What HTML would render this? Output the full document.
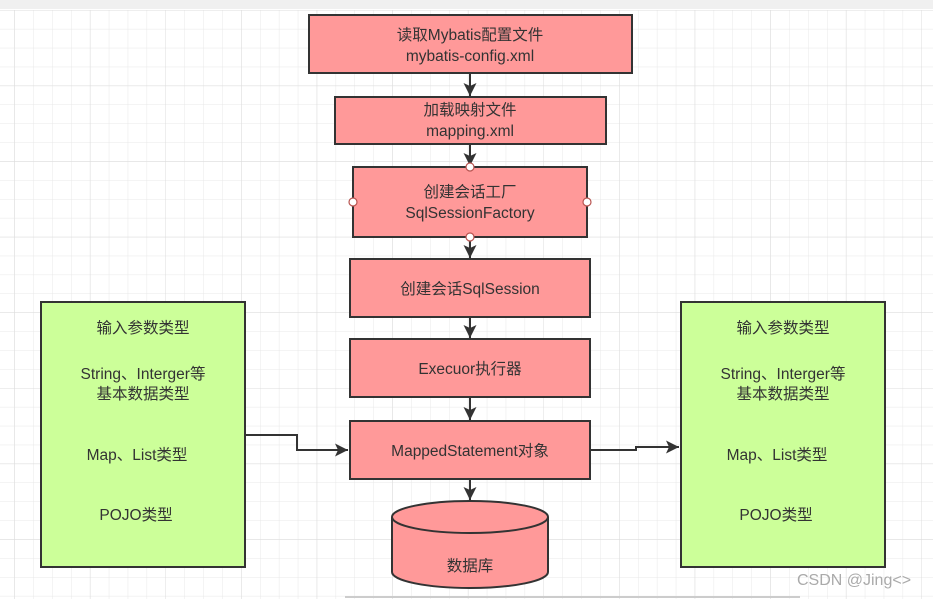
<!DOCTYPE html>
<html><head><meta charset="utf-8"><style>
html,body{margin:0;padding:0;background:#fff;}
body{width:933px;height:599px;overflow:hidden;position:relative;}
svg text{font-family:"Liberation Sans","Noto Sans CJK SC",sans-serif;font-size:15.5px;fill:#333;text-anchor:middle;}
</style></head><body>
<svg width="933" height="599" xmlns="http://www.w3.org/2000/svg">
<defs>
<pattern id="g" x="14.3" y="10" width="18.9" height="18.9" patternUnits="userSpaceOnUse">
<path d="M0 0H18.9M0 0V18.9" stroke="#e8e8e8" stroke-width="1" fill="none"/>
</pattern>
<pattern id="G" x="14.3" y="10" width="75.6" height="75.6" patternUnits="userSpaceOnUse">
<path d="M0 0H75.6M0 0V75.6" stroke="#dcdcdc" stroke-width="1" fill="none"/>
</pattern>
<marker id="a" markerWidth="14" markerHeight="14" refX="13" refY="6.5" orient="auto" markerUnits="userSpaceOnUse">
<path d="M0 0L13 6.5L0 13L3 6.5Z" fill="#333"/>
</marker>
</defs>
<rect width="933" height="599" fill="#fff"/>
<rect x="0" y="10" width="933" height="589" fill="url(#g)"/>
<rect x="0" y="10" width="933" height="589" fill="url(#G)"/>
<rect x="0" y="0" width="933" height="9" fill="#f0f0f0"/>
<line x1="345" y1="597" x2="800" y2="597" stroke="#ccc" stroke-width="2"/>

<g stroke="#333" stroke-width="2" fill="none">
<line x1="470" y1="73" x2="470" y2="96" marker-end="url(#a)"/>
<line x1="470" y1="144" x2="470" y2="166" marker-end="url(#a)"/>
<line x1="470" y1="237" x2="470" y2="258" marker-end="url(#a)"/>
<line x1="470" y1="317" x2="470" y2="338" marker-end="url(#a)"/>
<line x1="470" y1="397" x2="470" y2="420" marker-end="url(#a)"/>
<line x1="470" y1="479" x2="470" y2="500" marker-end="url(#a)"/>
<polyline points="245,435 297,435 297,450 348,450" marker-end="url(#a)"/>
<polyline points="590,450 636,450 636,447 679,447" marker-end="url(#a)"/>
</g>

<g fill="#ff9999" stroke="#333" stroke-width="2">
<rect x="309" y="15" width="323" height="58"/>
<rect x="335" y="97" width="271" height="47"/>
<rect x="353" y="167" width="234" height="70"/>
<rect x="350" y="259" width="240" height="58"/>
<rect x="350" y="339" width="240" height="58"/>
<rect x="350" y="421" width="240" height="58"/>
<path d="M392 517 A78 16 0 0 1 548 517 V572 A78 16 0 0 1 392 572 Z"/>
<path d="M392 517 A78 16 0 0 0 548 517" fill="none"/>
</g>
<g fill="#fff" stroke="#b85450" stroke-width="1.2">
<circle cx="470" cy="167" r="4"/><circle cx="470" cy="237" r="4"/>
<circle cx="353" cy="202" r="4"/><circle cx="587" cy="202" r="4"/>
</g>

<g fill="#ccff99" stroke="#333" stroke-width="2">
<rect x="41" y="302" width="204" height="265"/>
<rect x="681" y="302" width="204" height="265"/>
</g>

<text x="470" y="40">读取Mybatis配置文件</text>
<text x="470" y="61">mybatis-config.xml</text>
<text x="470" y="115">加载映射文件</text>
<text x="470" y="136">mapping.xml</text>
<text x="470" y="197">创建会话工厂</text>
<text x="470" y="218">SqlSessionFactory</text>
<text x="470" y="294">创建会话SqlSession</text>
<text x="470" y="374">Execuor执行器</text>
<text x="470" y="456">MappedStatement对象</text>
<text x="470" y="571">数据库</text>

<g>
<text x="143" y="333">输入参数类型</text>
<text x="143" y="379">String、Interger等</text>
<text x="143" y="399">基本数据类型</text>
<text x="137" y="460">Map、List类型</text>
<text x="136" y="520">POJO类型</text>
<text x="783" y="333">输入参数类型</text>
<text x="783" y="379">String、Interger等</text>
<text x="783" y="399">基本数据类型</text>
<text x="777" y="460">Map、List类型</text>
<text x="776" y="520">POJO类型</text>
</g>
<text x="854" y="585" style="fill:#aaa;font-size:16px">CSDN @Jing&lt;&gt;</text>
</svg>
</body></html>
